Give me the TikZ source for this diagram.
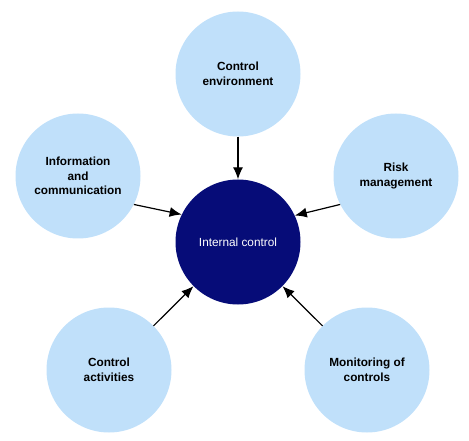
\documentclass[tikz,border=0pt]{standalone}
\usepackage{fontspec}
\setmainfont{Liberation Sans}
\usetikzlibrary{arrows.meta}
\definecolor{paleblue}{RGB}{192,224,250}
\definecolor{navyblue}{RGB}{6,12,120}
\begin{document}
\begin{tikzpicture}[x=1pt,y=-1pt,
  part/.style={circle,fill=paleblue,minimum size=125pt,inner sep=0pt,align=center,font=\fontsize{11.8}{14.5}\selectfont\bfseries},
  core/.style={circle,fill=navyblue,minimum size=125pt,inner sep=0pt,text=white,font=\fontsize{11.8}{14.5}\selectfont},
  feed/.style={line width=1.2pt,-{Latex[length=12pt,width=10pt]}}]
\path[use as bounding box] (0,0) rectangle (469,441);
\node[core] (ic) at (238,242) {Internal control};
\node[part] (env) at (238,74) {Control\\environment};
\node[part] (info) at (78,176) {Information\\and\\communication};
\node[part] (risk) at (396,176) {Risk\\management};
\node[part] (act) at (109,370) {Control\\activities};
\node[part] (mon) at (367,370) {Monitoring of\\controls};
\draw[feed] (env) -- (ic);
\draw[feed] (info.-27) -- (ic.154);
\draw[feed] (risk.207) -- (ic.25);
\draw[feed] (act) -- (ic);
\draw[feed] (mon) -- (ic);
\end{tikzpicture}
\end{document}
